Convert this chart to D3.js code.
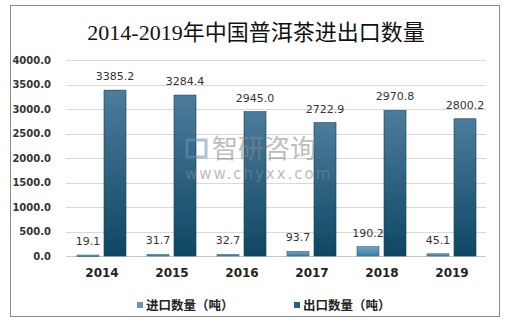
<!DOCTYPE html>
<html><head><meta charset="utf-8">
<script src="https://cdn.jsdelivr.net/npm/d3@7"></script>
<style>body{margin:0;background:#fff}svg{display:block}</style>
</head><body>
<script>
const years = ["2014","2015","2016","2017","2018","2019"];
const importVals = [19.1, 31.7, 32.7, 93.7, 190.2, 45.1];
const exportVals = [3385.2, 3284.4, 2945.0, 2722.9, 2970.8, 2800.2];
const yTicks = [0,500,1000,1500,2000,2500,3000,3500,4000];
const seriesNames = ["进口数量（吨）","出口数量（吨）"];
const title = "2014-2019年中国普洱茶进出口数量";

const W=510,H=324;
const svg=d3.select("body").append("svg").attr("width",W).attr("height",H);
const defs=svg.append("defs");
const g1=defs.append("linearGradient").attr("id","gExp").attr("x1",0).attr("y1",0).attr("x2",0).attr("y2",1);
g1.append("stop").attr("offset","0%").attr("stop-color","#4d7c9c");
g1.append("stop").attr("offset","100%").attr("stop-color","#0e4762");
const g2=defs.append("linearGradient").attr("id","gImp").attr("x1",0).attr("y1",0).attr("x2",0).attr("y2",1);
g2.append("stop").attr("offset","0%").attr("stop-color","#6aa3c4");
g2.append("stop").attr("offset","100%").attr("stop-color","#3f7ea3");

svg.append("rect").attr("x",10.5).attr("y",5.5).attr("width",489).attr("height",311).attr("fill","#fff").attr("stroke","#8a8a8a");

svg.append("text").attr("x",256).attr("y",40).attr("text-anchor","middle")
 .style("font-family","'Liberation Serif','Noto Sans CJK SC',serif").style("font-size","22px").attr("fill","#111").text(title);

const x=d3.scaleBand().domain(years).range([67,487]);
const y=d3.scaleLinear().domain([0,4000]).range([256,60]);

const grid=svg.append("g");
grid.selectAll("line").data(yTicks).join("line").attr("x1",66).attr("x2",486)
 .attr("y1",d=>Math.round(y(d))+0.5).attr("y2",d=>Math.round(y(d))+0.5).attr("stroke",d=>d===0?"#c8c8c8":"#d9d9d9");

const yAxis=svg.append("g").attr("transform","translate(56,0)").call(d3.axisLeft(y).tickValues(yTicks).tickFormat(d3.format(".1f")).tickSize(0));
yAxis.select(".domain").remove();
yAxis.selectAll("text").style("font-family","'DejaVu Sans',sans-serif").style("font-size","10px").style("font-weight","bold").attr("fill","#333").attr("dx","-2");

const xAxis=svg.append("g").attr("transform","translate(0,256)").call(d3.axisBottom(x).tickSize(0));
xAxis.select(".domain").remove();
xAxis.selectAll("text").attr("dy","18").style("font-family","'DejaVu Sans',sans-serif").style("font-size","12px").style("font-weight","bold").attr("fill","#222");

const bw=22;
const impX=d=>x(d)+10, expX=d=>x(d)+37;
svg.append("g").selectAll("rect").data(years).join("rect")
 .attr("x",d=>impX(d)).attr("width",bw).attr("y",(d,i)=>y(importVals[i])).attr("height",(d,i)=>Math.max(1.5,256-y(importVals[i])))
 .attr("fill","url(#gImp)").attr("stroke","#2f6585").attr("stroke-width",0.6);
svg.append("g").selectAll("rect").data(years).join("rect")
 .attr("x",d=>expX(d)).attr("width",bw).attr("y",(d,i)=>y(exportVals[i])).attr("height",(d,i)=>256-y(exportVals[i]))
 .attr("fill","url(#gExp)").attr("stroke","#163e55").attr("stroke-width",0.6);

// watermark (on top)
const wm=svg.append("g").attr("opacity",0.55);
wm.append("rect").attr("x",187).attr("y",140).attr("width",19).attr("height",17).attr("fill","none").attr("stroke","#6f8fb0").attr("stroke-width",3);
wm.append("text").attr("x",212).attr("y",158).style("font-family","'Noto Sans CJK SC',sans-serif").style("font-size","26px").attr("fill","#888").text("智研咨询");
wm.append("text").attr("x",185).attr("y",179).style("font-family","'DejaVu Sans',sans-serif").style("font-size","15px").style("letter-spacing","2px").attr("fill","#888").text("www.chyxx.com");

const lab={"font-family":"'DejaVu Sans',sans-serif","font-size":"11px"};
svg.append("g").selectAll("text").data(years).join("text")
 .attr("x",d=>impX(d)+bw/2).attr("y",(d,i)=>y(importVals[i])-10).attr("text-anchor","middle")
 .style("font-family",lab["font-family"]).style("font-size",lab["font-size"]).attr("fill","#333")
 .text((d,i)=>d3.format(".1f")(importVals[i]));
svg.append("g").selectAll("text").data(years).join("text")
 .attr("x",d=>expX(d)+bw/2).attr("y",(d,i)=>y(exportVals[i])-10).attr("text-anchor","middle")
 .style("font-family",lab["font-family"]).style("font-size",lab["font-size"]).attr("fill","#333")
 .text((d,i)=>d3.format(".1f")(exportVals[i]));

const leg=svg.append("g");
const legX=[137,294];
seriesNames.forEach((n,i)=>{
 leg.append("rect").attr("x",legX[i]).attr("y",302).attr("width",6).attr("height",6).attr("fill",i===0?"#5f97b9":"#2b5f80");
 leg.append("text").attr("x",legX[i]+9).attr("y",310).style("font-family","'Noto Sans CJK SC',sans-serif").style("font-size","12.5px").style("font-weight","bold").attr("fill","#222").text(n);
});
</script>
</body></html>
